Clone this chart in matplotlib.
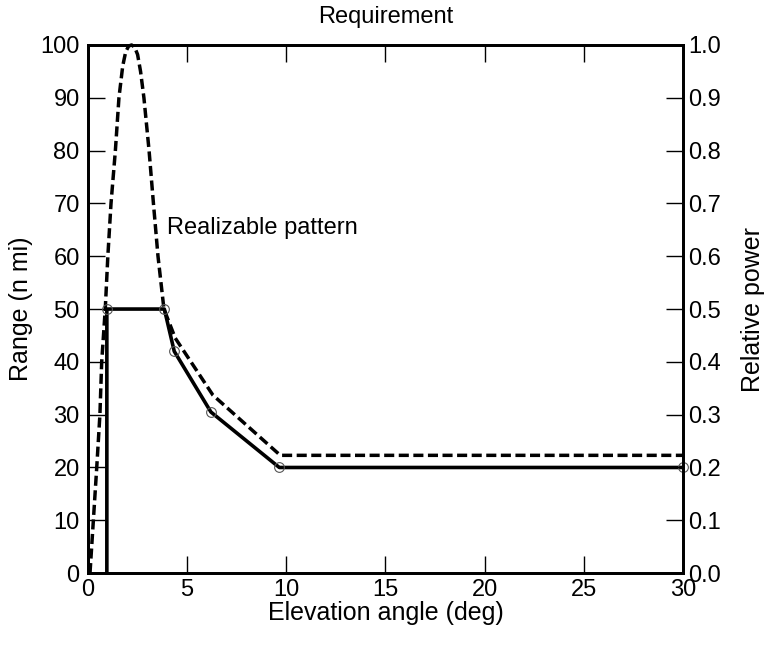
import matplotlib.pyplot as plt

plt.rcParams["font.family"] = ["Liberation Sans", "DejaVu Sans"]

# requirement curve (solid line)
req_angle = [0.95, 0.95, 3.85, 4.35, 6.2, 9.65, 30.0]
req_range = [0, 50, 50, 42, 30.5, 20, 20]

# sample points marked with open circles
pt_angle = [0.95, 3.85, 4.35, 6.2, 9.65, 30.0]
pt_range = [50, 50, 42, 30.5, 20, 20]

# realizable pattern (dashed line)
pat_angle = [0.1, 0.27, 0.44, 0.6, 0.69, 0.87, 1.0, 1.16, 1.38, 1.56, 1.75, 1.9, 2.05,
             2.2, 2.35, 2.5, 2.65, 2.82, 3.08, 3.3, 3.53, 3.83, 4.4, 6.3, 9.7, 30.0]
pat_range = [0, 10, 20, 30, 40, 50, 60, 70, 80, 90, 96, 98.7, 99.8,
             100, 99.6, 98.2, 95, 90, 80, 70, 60, 50, 44.5, 33.7, 22.3, 22.3]

fig, ax = plt.subplots(figsize=(7.68, 6.52), dpi=100)
fig.subplots_adjust(left=0.1146, right=0.889, bottom=0.121, top=0.931)

ax.plot(pat_angle, pat_range, color="black", lw=2.5, ls=(0, (2.9, 1.3)), clip_on=False)
ax.plot(req_angle, req_range, color="black", lw=2.6, clip_on=False)
ax.plot(pt_angle, pt_range, ls="none", marker="o", ms=7, mfc="none",
        mec="#555555", mew=0.8, clip_on=False)

ax.set_xlim(0, 30)
ax.set_ylim(0, 100)
ax.set_xticks(range(0, 31, 5))
ax.set_yticks(range(0, 101, 10))
ax.tick_params(direction="in", length=12, width=1, labelsize=17, top=True)
ax.tick_params(axis="x", pad=4)
ax.tick_params(axis="y", pad=6)
for s in ax.spines.values():
    s.set_linewidth(2)

ax2 = ax.twinx()
ax2.set_ylim(0, 1)
ax2.set_yticks([i / 10 for i in range(11)])
ax2.set_yticklabels([f"{i / 10:.1f}" for i in range(11)])
ax2.tick_params(direction="in", length=12, width=1, labelsize=17, pad=4)
for s in ax2.spines.values():
    s.set_linewidth(2)

ax.text(4.0, 65.3, "Realizable pattern", fontsize=17, va="center")
ax.set_title("Requirement", fontsize=17, pad=16)
ax.set_xlabel("Elevation angle (deg)", fontsize=18, labelpad=0)
ax.set_ylabel("Range (n mi)", fontsize=18, labelpad=5)
ax2.set_ylabel("Relative power", fontsize=18, labelpad=14)

plt.savefig("out.png")
plt.close()
